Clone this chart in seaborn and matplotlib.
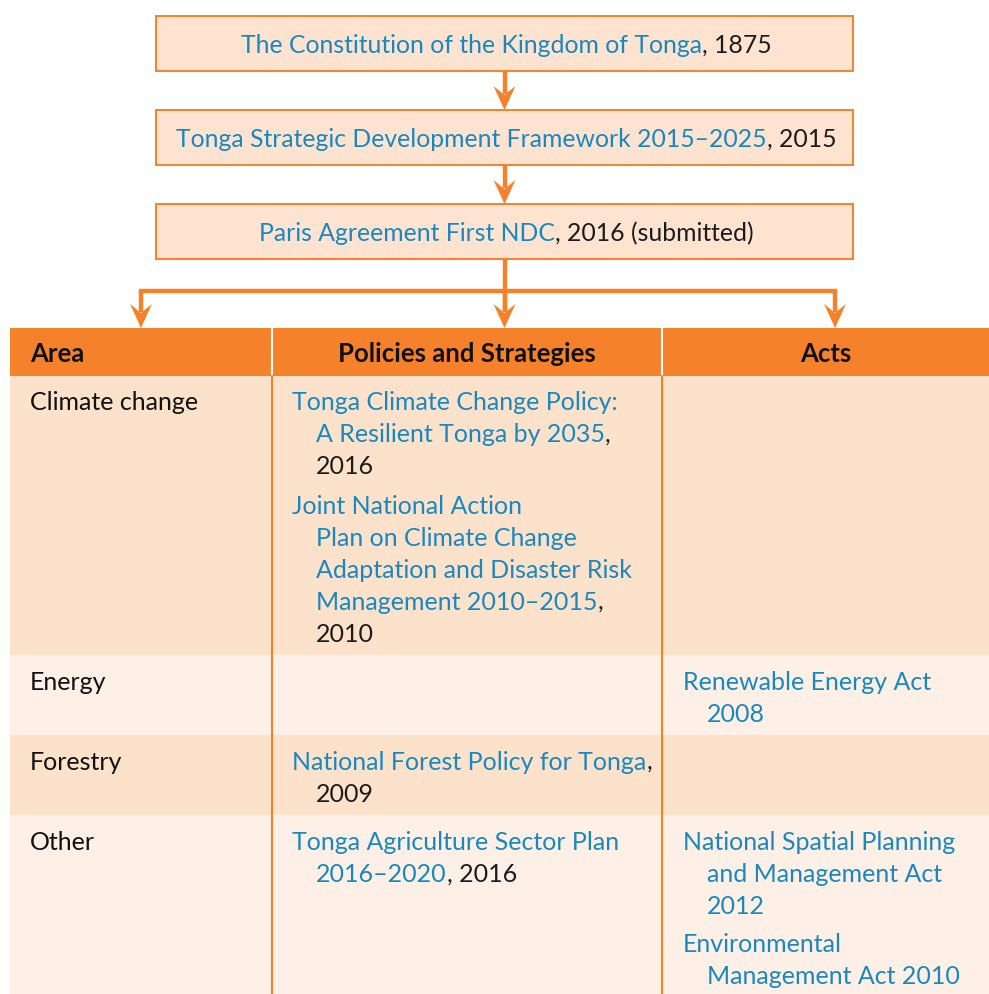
import matplotlib
matplotlib.use('Agg')
import matplotlib.pyplot as plt
import seaborn as sns
from matplotlib.patches import Rectangle, Polygon

sns.set_theme(style='white')
plt.rcParams['font.family'] = ['Lato', 'DejaVu Sans']

# ---------------- data ----------------
hierarchy = [
    [("The Constitution of the Kingdom of Tonga", "link"), (", 1875", "plain")],
    [("Tonga Strategic Development Framework 2015\u20132025", "link"), (", 2015", "plain")],
    [("Paris Agreement First NDC", "link"), (", 2016 (submitted)", "plain")],
]

headers = ["Area", "Policies and Strategies", "Acts"]
areas = ["Climate change", "Energy", "Forestry", "Other"]

policies = [
    [
        [[("Tonga Climate Change Policy:", "link")],
         [("A Resilient Tonga by 2035", "link"), (",", "plain")],
         [("2016", "plain")]],
        [[("Joint National Action", "link")],
         [("Plan on Climate Change", "link")],
         [("Adaptation and Disaster Risk", "link")],
         [("Management 2010\u20132015", "link"), (",", "plain")],
         [("2010", "plain")]],
    ],
    [],
    [
        [[("National Forest Policy for Tonga", "link"), (",", "plain")],
         [("2009", "plain")]],
    ],
    [
        [[("Tonga Agriculture Sector Plan", "link")],
         [("2016\u20132020", "link"), (", 2016", "plain")]],
    ],
]

acts = [
    [],
    [
        [[("Renewable Energy Act", "link")], [("2008", "link")]],
    ],
    [],
    [
        [[("National Spatial Planning", "link")],
         [("and Management Act", "link")],
         [("2012", "link")]],
        [[("Environmental", "link")],
         [("Management Act 2010", "link")]],
    ],
]

# ---------------- style ----------------
COLORS = {"link": "#1A88C0", "plain": "#1c1c1c"}
ORANGE = "#F5822A"
BOX_FILL = "#FDE3D0"
ROW_FILLS = ["#FCE1CB", "#FEF0E6"]
FS = 18
FS_BOX = 17.8
FS_HEAD = 18.5

W, H = 989, 994
fig = plt.figure(figsize=(W / 100, H / 100), dpi=100)
ax = fig.add_axes([0, 0, 1, 1])
ax.set_xlim(0, W)
ax.set_ylim(H, 0)
ax.axis('off')
renderer = fig.canvas.get_renderer()


def seg_width(txt, fs, weight='normal'):
    t = ax.text(0, 0, txt, fontsize=fs, fontweight=weight)
    w = t.get_window_extent(renderer).width
    t.remove()
    return w


def draw_line(segs, x, y, align='left', weight='normal', fs=FS):
    widths = [seg_width(s, fs, weight) for s, _ in segs]
    total = sum(widths)
    if align == 'center':
        x = x - total / 2
    for (s, c), w in zip(segs, widths):
        ax.text(x, y, s, fontsize=fs, color=COLORS[c], va='center', ha='left',
                fontweight=weight)
        x += w


def arrow_head(x, ytip):
    hw, hl, notch = 11, 24, 9
    ax.add_patch(Polygon([(x, ytip), (x - hw, ytip - hl), (x, ytip - hl + notch),
                          (x + hw, ytip - hl)], closed=True, color=ORANGE, lw=0, zorder=4))


def vline(x, y0, y1):
    ax.plot([x, x], [y0, y1], color=ORANGE, lw=3.2, solid_capstyle='butt', zorder=3)


# ---------------- hierarchy boxes ----------------
box_x0, box_x1 = 156, 853
box_tops = [16, 110, 204]
box_h = 55
cx = (box_x0 + box_x1) / 2
for top, segs in zip(box_tops, hierarchy):
    ax.add_patch(Rectangle((box_x0, top), box_x1 - box_x0, box_h, facecolor=BOX_FILL,
                           edgecolor=ORANGE, lw=1.4, zorder=2))
    draw_line(segs, cx + 2, top + box_h / 2 + 2, align='center', fs=FS_BOX)

for i in range(len(box_tops) - 1):
    y0 = box_tops[i] + box_h
    y1 = box_tops[i + 1]
    vline(cx, y0, y1 - 16)
    arrow_head(cx, y1)

# branching arrows
table_top = 328
branch_y = 291
branch_xs = [141, cx, 835]
vline(cx, box_tops[-1] + box_h, table_top - 16)
ax.plot([branch_xs[0], branch_xs[-1]], [branch_y, branch_y], color=ORANGE, lw=3.2,
        solid_capstyle='projecting', zorder=3)
for bx in branch_xs:
    vline(bx, branch_y, table_top - 16)
    arrow_head(bx, table_top)

# ---------------- table ----------------
tx0, tx1 = 10, W
col_x = [10, 272, 662, W]
header_h = 48
LINE = 32
GAP = 7
PAD_TOP = 27
PAD = 16

ax.add_patch(Rectangle((tx0, table_top), tx1 - tx0, header_h, facecolor=ORANGE,
                       edgecolor='none', zorder=1))
hy = table_top + header_h / 2 + 2
ax.text(30, hy, headers[0], fontsize=FS_HEAD, fontweight='bold', color='#111111', va='center')
ax.text((col_x[1] + col_x[2]) / 2, hy, headers[1], fontsize=FS_HEAD, fontweight='bold',
        color='#111111', va='center', ha='center')
ax.text((col_x[2] + col_x[3]) / 2, hy, headers[2], fontsize=FS_HEAD, fontweight='bold',
        color='#111111', va='center', ha='center')
for x in col_x[1:3]:
    ax.plot([x, x], [table_top, table_top + header_h], color='white', lw=1.5, zorder=2)


def cell_height(items):
    if not items:
        return 0
    n = sum(len(it) for it in items)
    return n * LINE + (len(items) - 1) * GAP


def draw_cell(items, x, top):
    y = top + PAD_TOP
    for it in items:
        for li, segs in enumerate(it):
            draw_line(segs, x + (0 if li == 0 else 24), y)
            y += LINE
        y += GAP


y = table_top + header_h
for i, area in enumerate(areas):
    h = max(LINE, cell_height(policies[i]), cell_height(acts[i])) + PAD
    ax.add_patch(Rectangle((tx0, y), tx1 - tx0, h, facecolor=ROW_FILLS[i % 2],
                           edgecolor='none', zorder=1))
    ax.text(30, y + PAD_TOP, area, fontsize=FS, color='#111111', va='center')
    draw_cell(policies[i], 292, y)
    draw_cell(acts[i], 683, y)
    y += h

for x in col_x[1:3]:
    ax.plot([x, x], [table_top + header_h, H], color=ORANGE, lw=1.5, zorder=2)

fig.savefig('out.png', dpi=100)
